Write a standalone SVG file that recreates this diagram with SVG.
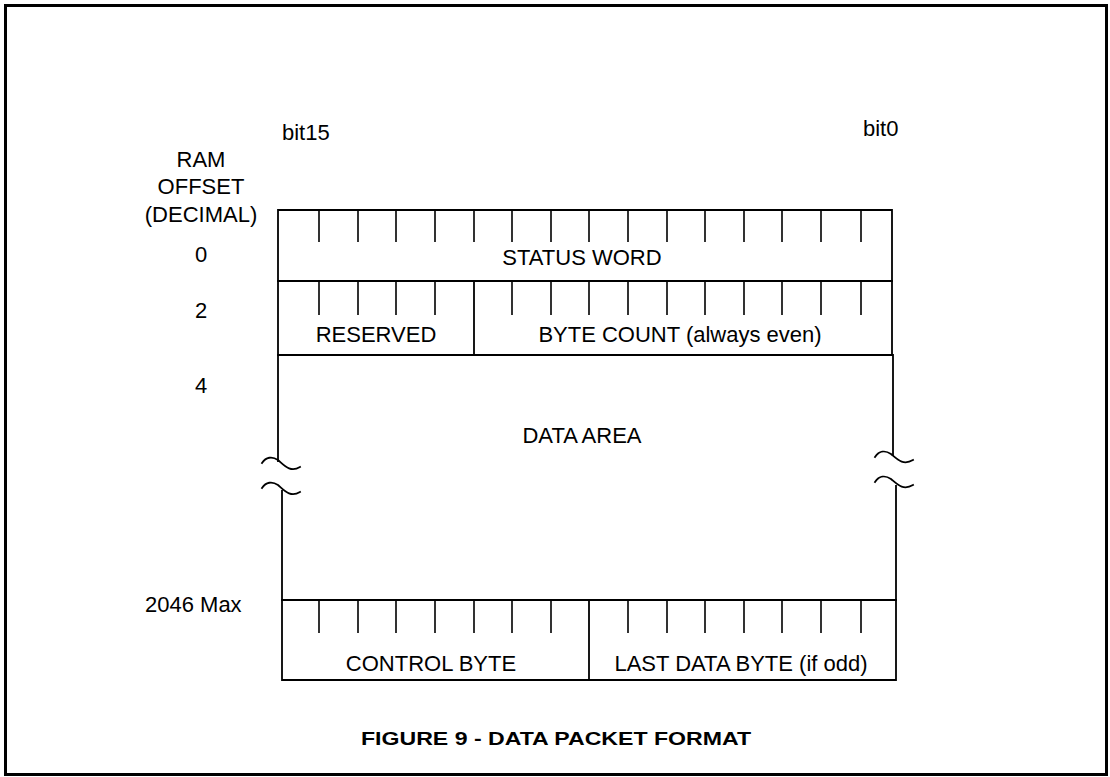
<svg xmlns="http://www.w3.org/2000/svg" width="1110" height="777" viewBox="0 0 1110 777">
<style>
.ln{stroke:#000;stroke-width:1.8;fill:none;stroke-linecap:square}
.tk{stroke:#000;stroke-width:1.6;fill:none}
.t{font-family:"Liberation Sans",Arial,sans-serif;font-size:22px;fill:#000}
.c{text-anchor:middle}
.cap{font-family:"Liberation Sans",Arial,sans-serif;font-size:19px;font-weight:bold;fill:#000;text-anchor:middle}
</style>
<rect width="1110" height="777" fill="#fff"/>
<rect x="5.5" y="5.5" width="1101" height="769" fill="none" stroke="#000" stroke-width="3"/>

<g id="header-labels">
<text class="t" x="282" y="140">bit15</text>
<text class="t" x="863" y="136">bit0</text>
<text class="t c" x="201" y="167">RAM</text>
<text class="t c" x="201" y="194">OFFSET</text>
<text class="t c" x="201" y="222">(DECIMAL)</text>
</g>

<g id="offsets">
<text class="t c" x="201" y="262">0</text>
<text class="t c" x="201" y="318">2</text>
<text class="t c" x="201" y="393">4</text>
<text class="t" x="145" y="612">2046 Max</text>
</g>

<g id="status-word">
<path class="ln" d="M278,210 H892 V281 H278 Z"/>
<path class="tk" d="M319,210V242 M358,210V242 M396,210V242 M435,210V242 M474,210V242 M512,210V242 M551,210V242 M589,210V242 M628,210V242 M667,210V242 M705,210V242 M744,210V242 M782,210V242 M821,210V242 M861,210V242"/>
<text class="t c" x="582" y="265">STATUS WORD</text>
</g>

<g id="reserved">
<path class="ln" d="M278,281 H474 V355 H278 Z"/>
<path class="tk" d="M319,281V315 M358,281V315 M396,281V315 M435,281V315"/>
<text class="t c" x="376" y="342">RESERVED</text>
</g>

<g id="byte-count">
<path class="ln" d="M474,281 H892 V355 H474"/>
<path class="tk" d="M512,281V315 M551,281V315 M589,281V315 M628,281V315 M667,281V315 M705,281V315 M744,281V315 M782,281V315 M821,281V315 M861,281V315"/>
<text class="t c" x="680" y="342">BYTE COUNT (always even)</text>
</g>

<g id="data-area">
<path class="ln" d="M278,355 V461 M282,491 V600 M893,355 V455 M896,486 V600"/>
<path class="ln" d="M262,463 C266,457 272,456 278,460 C284,465 290,473 300,467"/>
<path class="ln" d="M262,488 C266,482 272,481 278,485 C284,490 290,498 300,492"/>
<path class="ln" d="M875,457 C879,451 885,450 891,454 C897,459 903,466 913,460"/>
<path class="ln" d="M875,482 C879,476 885,475 891,479 C897,484 903,491 913,485"/>
<text class="t c" x="582" y="443">DATA AREA</text>
</g>

<g id="control-byte">
<path class="ln" d="M282,600 H589 V680 H282 Z"/>
<path class="tk" d="M319,600V633 M358,600V633 M396,600V633 M435,600V633 M474,600V633 M512,600V633 M551,600V633"/>
<text class="t c" x="431" y="671">CONTROL BYTE</text>
</g>

<g id="last-data-byte">
<path class="ln" d="M589,600 H896 V680 H589"/>
<path class="tk" d="M628,600V633 M667,600V633 M705,600V633 M744,600V633 M782,600V633 M821,600V633 M861,600V633"/>
<text class="t c" x="741" y="671">LAST DATA BYTE (if odd)</text>
</g>

<g id="caption">
<text class="cap" x="556" y="745" textLength="390" lengthAdjust="spacingAndGlyphs">FIGURE 9 - DATA PACKET FORMAT</text>
</g>
</svg>
